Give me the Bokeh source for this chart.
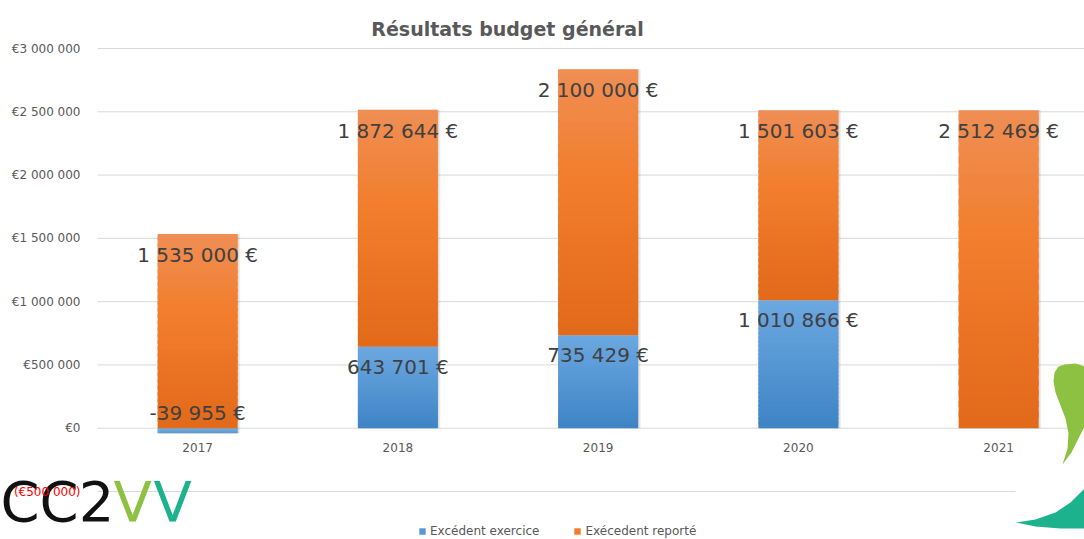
from bokeh.plotting import figure
from bokeh.models import Range1d, Legend, LegendItem, ColumnDataSource
from bokeh.core.properties import value
from bokeh.transform import dodge
from bokeh.embed import file_html
from bokeh.resources import INLINE

# ---------------- data ----------------
years = ["2017", "2018", "2019", "2020", "2021"]
excedent_exercice = [-39955, 643701, 735429, 1010866, 0]
excedent_reporte = [1535000, 1872644, 2100000, 1501603, 2512469]
y_ticks = [-500000, 0, 500000, 1000000, 1500000, 2000000, 2500000, 3000000]
title_text = "Résultats budget général"
series_names = ["Excédent exercice", "Exécedent reporté"]

# ---------------- layout constants (figure pixels) ----------------
W, H = 1084, 539
LEFT, TOP = 97, 48          # plot-area origin (left gridline start, top tick)
PX_PER_CAT = 200.25
Y_TOP, Y_LOW_TICK = 3000000, -500000
TICK_SPAN_PX = 443
units_per_px = (Y_TOP - Y_LOW_TICK) / TICK_SPAN_PX


def fx(px):  # figure pixel -> data x
    return -0.5 + (px - LEFT) / PX_PER_CAT


def fy(py):  # figure pixel -> data y
    return Y_TOP - (py - TOP) * units_per_px


def fmt_eur(v):
    return f"{v:,}".replace(",", " ") + " €"


def fmt_tick(v):
    return "€" + f"{v:,}".replace(",", " ")


def hex2rgb(h):
    h = h.lstrip("#")
    return tuple(int(h[i:i + 2], 16) for i in (0, 2, 4))


def interp(stops, t):
    for (t0, c0), (t1, c1) in zip(stops, stops[1:]):
        if t0 <= t <= t1:
            a = (t - t0) / (t1 - t0) if t1 > t0 else 0
            r0, r1 = hex2rgb(c0), hex2rgb(c1)
            return "#%02x%02x%02x" % tuple(round(r0[i] + (r1[i] - r0[i]) * a) for i in range(3))
    return stops[-1][1]


BLUE_STOPS = [(0.0, "#3E84C6"), (1.0, "#6CA8E1")]
ORANGE_STOPS = [(0.0, "#E2691A"), (0.6, "#F27E2D"), (1.0, "#EF8E55")]

p = figure(width=W, height=H,
           x_range=Range1d(fx(0), fx(W)), y_range=Range1d(fy(H), fy(0)),
           output_backend="svg", toolbar_location=None,
           min_border_left=0, min_border_right=0, min_border_top=0,
           min_border_bottom=0, outline_line_color=None)
p.title = None
p.axis.visible = False
p.grid.visible = False

X0 = -0.5
X1 = fx(W)

# ---------------- gridlines + y tick labels ----------------
p.segment(x0=[X0] * len(y_ticks), x1=[X1] * len(y_ticks), y0=y_ticks, y1=y_ticks,
          line_color="#D9D9D9", line_width=1)
pos_ticks = [t for t in y_ticks if t >= 0]
p.text(x=[X0] * len(pos_ticks), y=pos_ticks,
       text=[("€0" if t == 0 else fmt_tick(t)) for t in pos_ticks],
       x_offset=-17, text_font=value("DejaVu Sans"), text_font_size="12px",
       text_color="#595959", text_align="right", text_baseline="middle")

# ---------------- bars (gradient via slices) ----------------
K = 30
xs = list(range(len(years)))
BAR_W = 80 / PX_PER_CAT


def segments(i):
    b = excedent_exercice[i]
    o = excedent_reporte[i]
    blue = (min(0, b), max(0, b))
    ob = max(0, b)
    orange = (ob, ob + o)
    return blue, orange


shadow = dict(x=[], top=[], bottom=[])
slices = {"blue": dict(x=[], top=[], bottom=[], color=[]),
          "orange": dict(x=[], top=[], bottom=[], color=[])}
for i in xs:
    blue, orange = segments(i)
    shadow["x"].append(xs[i])
    shadow["top"].append(orange[1])
    shadow["bottom"].append(min(blue[0], orange[0]))
    for key, (b0, b1), stops in (("blue", blue, BLUE_STOPS), ("orange", orange, ORANGE_STOPS)):
        if b1 - b0 <= 0:
            continue
        step = (b1 - b0) / K
        for k in range(K):
            s0 = b0 + step * k
            s1 = min(b1, b0 + step * (k + 1.6))
            slices[key]["x"].append(xs[i])
            slices[key]["bottom"].append(s0)
            slices[key]["top"].append(s1)
            slices[key]["color"].append(interp(stops, (k + 0.5) / K))

shadow_src = ColumnDataSource(shadow)
p.vbar(x=dodge("x", 2.5 / PX_PER_CAT), top="top", bottom="bottom", width=BAR_W,
       source=shadow_src, fill_color="#000000", fill_alpha=0.07, line_color=None)
p.vbar(x=dodge("x", 1.2 / PX_PER_CAT), top="top", bottom="bottom", width=BAR_W,
       source=shadow_src, fill_color="#000000", fill_alpha=0.07, line_color=None)

r_blue = p.vbar(x="x", top="top", bottom="bottom", width=BAR_W, fill_color="color",
                line_color=None, source=ColumnDataSource(slices["blue"]))
r_orange = p.vbar(x="x", top="top", bottom="bottom", width=BAR_W, fill_color="color",
                  line_color=None, source=ColumnDataSource(slices["orange"]))

# ---------------- data labels ----------------
lab = dict(x=[], y=[], text=[], yoff=[])
for i in xs:
    blue, orange = segments(i)
    b = excedent_exercice[i]
    if b > 0:
        lab["x"].append(xs[i]); lab["y"].append(blue[1]); lab["text"].append(fmt_eur(b)); lab["yoff"].append(20)
    elif b < 0:
        lab["x"].append(xs[i]); lab["y"].append(0); lab["text"].append(fmt_eur(b)); lab["yoff"].append(-15)
    lab["x"].append(xs[i]); lab["y"].append(orange[1]); lab["text"].append(fmt_eur(excedent_reporte[i])); lab["yoff"].append(21)
p.text(x="x", y="y", text="text", y_offset="yoff", source=ColumnDataSource(lab),
       text_font=value("DejaVu Sans"), text_font_size="20px", text_color="#404040",
       text_align="center", text_baseline="middle")

# category labels at y = 0
p.text(x=xs, y=[0] * len(xs), text=years, y_offset=19,
       text_font=value("DejaVu Sans"), text_font_size="12px", text_color="#595959",
       text_align="center", text_baseline="middle")

# ---------------- decorations: logos ----------------
p.quad(left=fx(1015), right=fx(W), top=fy(482), bottom=fy(H),
       fill_color="white", line_color=None)
green_px = [(1064, 364), (1058, 366), (1054, 372), (1053, 381), (1055, 392), (1060, 405),
            (1065, 418), (1068, 433), (1067, 448), (1062, 464), (1071, 452), (1078, 438),
            (1084, 426), (1084, 366), (1075, 363)]
teal_px = [(1015, 522), (1035, 519), (1055, 512), (1070, 502), (1084, 488), (1084, 528),
           (1060, 528), (1035, 526)]
p.patch(x=[fx(a) for a, b in green_px], y=[fy(b) for a, b in green_px],
        fill_color="#8CC142", line_color=None)
p.patch(x=[fx(a) for a, b in teal_px], y=[fy(b) for a, b in teal_px],
        fill_color="#1DB28E", line_color=None)

logo_font = dict(text_font=value("DejaVu Sans"), text_font_size="56px",
                 text_baseline="middle", text_align="left")
p.text(x=[fx(0)], y=[fy(501)], text=["CC2"], text_color="#111111", **logo_font)
p.text(x=[fx(113)], y=[fy(501)], text=["V"], text_color="#8CC142", **logo_font)
p.text(x=[fx(153)], y=[fy(501)], text=["V"], text_color="#1DB28E", **logo_font)

# red negative tick label (drawn over the logo)
neg_ticks = [t for t in y_ticks if t < 0]
p.text(x=[X0] * len(neg_ticks), y=neg_ticks,
       text=["(" + fmt_tick(-t) + ")" for t in neg_ticks], x_offset=-17,
       text_font=value("DejaVu Sans"), text_font_size="12px", text_color="#FF0000",
       text_align="right", text_baseline="middle")

# title
p.text(x=[fx(507)], y=[fy(28)], text=[title_text], text_font=value("DejaVu Sans"),
       text_font_style="bold", text_font_size="19px", text_color="#595959",
       text_align="center", text_baseline="middle")

# legend (uses mid-gradient colour of each series)
legend = Legend(items=[LegendItem(label=series_names[0], renderers=[r_blue], index=K // 2),
                       LegendItem(label=series_names[1], renderers=[r_orange], index=K // 2)],
                orientation="horizontal", location=(418, 1),
                label_text_font="DejaVu Sans", label_text_font_size="12px",
                label_text_color="#595959", glyph_width=8, glyph_height=8,
                label_standoff=4, spacing=34, padding=0, margin=0,
                label_height=12, background_fill_alpha=0, border_line_color=None)
p.add_layout(legend)

open("out.html", "w").write(file_html(p, INLINE))
